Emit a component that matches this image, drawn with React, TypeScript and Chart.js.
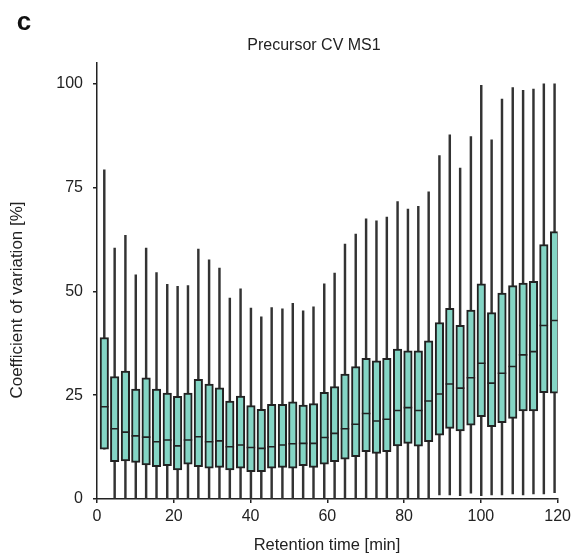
import { useEffect, useRef } from "react";
import { Chart, registerables } from "chart.js";

Chart.register(...registerables);

// Retention time bins [min]
const retentionTime = [
  1.9, 4.6, 7.4, 10.1, 12.8, 15.5, 18.3, 21.0, 23.7, 26.4, 29.2,
  31.9, 34.6, 37.4, 40.1, 42.8, 45.5, 48.3, 51.0, 53.7, 56.4, 59.2,
  61.9, 64.6, 67.4, 70.1, 72.8, 75.5, 78.3, 81.0, 83.7, 86.4, 89.2,
  91.9, 94.6, 97.4, 100.1, 102.8, 105.5, 108.3, 111.0, 113.7, 116.4, 119.2,
];

// Coefficient of variation [%] statistics per bin
const whiskerHigh = [
  79.3, 60.4, 63.5, 54.0, 60.4, 54.5, 51.7, 51.2, 51.4, 60.2, 57.6,
  55.6, 48.4, 50.6, 46.0, 43.9, 46.1, 45.8, 47.1, 45.3, 46.3, 51.8,
  54.4, 61.4, 63.8, 67.5, 67.0, 67.9, 71.6, 69.8, 70.5, 74.0, 82.7,
  87.7, 79.7, 87.3, 99.6, 86.5, 96.3, 99.1, 98.4, 98.7, 100.0, 100.0,
];
const q3 = [
  38.9, 29.5, 30.8, 26.5, 29.2, 26.5, 25.5, 24.7, 25.5, 28.8, 27.7,
  26.8, 23.6, 24.8, 22.5, 21.6, 22.8, 22.8, 23.4, 22.6, 23.0, 25.7,
  27.1, 30.1, 31.9, 33.9, 33.3, 33.9, 36.1, 35.7, 35.7, 38.1, 42.5,
  45.9, 41.8, 45.5, 51.8, 44.9, 49.6, 51.4, 52.0, 52.4, 61.3, 64.4,
];
const median = [
  22.2, 16.9, 16.1, 15.2, 14.9, 13.8, 14.2, 12.8, 14.2, 15.0, 13.8,
  14.0, 12.6, 13.0, 12.4, 12.2, 12.6, 13.0, 13.3, 13.4, 13.4, 14.8,
  15.8, 16.9, 18.0, 20.6, 18.8, 19.2, 21.3, 22.0, 21.3, 23.6, 25.3,
  27.7, 26.7, 29.2, 32.7, 27.9, 30.3, 31.9, 34.7, 35.5, 41.8, 43.0,
];
const q1 = [
  12.0, 9.0, 9.2, 8.8, 8.2, 7.8, 8.0, 7.0, 8.4, 7.8, 7.4,
  7.6, 7.0, 7.4, 6.6, 6.6, 7.4, 7.6, 7.4, 8.0, 7.6, 8.4,
  9.0, 9.6, 10.2, 11.4, 11.0, 11.4, 12.8, 13.4, 12.7, 13.8, 15.4,
  17.0, 16.4, 17.8, 19.8, 17.4, 18.4, 19.4, 21.2, 21.2, 25.6, 25.5,
];
const whiskerLow = [
  12.0, 0, 0, 0, 0, 0, 0, 0, 0, 0, 0,
  0, 0, 0, 0, 0, 0, 0, 0, 0, 0, 0,
  0, 0, 0, 0, 0, 0, 0, 0, 0, 0, 1.0,
  1.0, 0.8, 1.4, 0.8, 1.0, 1.0, 1.2, 1.0, 1.2, 1.2, 1.5,
];

const yTicks = [0, 25, 50, 75, 100];

const FONT = "'Liberation Sans', Arial, Helvetica, sans-serif";
const TEAL = "#84d5c5";
const DARK = "#222222";

export default function App() {
  const ref = useRef<HTMLCanvasElement | null>(null);

  useEffect(() => {
    document.body.style.margin = "0";
    const canvas = ref.current;
    if (!canvas) return;

    const boxData = retentionTime.map((x, i) => ({ x, y: [q1[i], q3[i]] }));
    const whiskerData = retentionTime.map((x, i) => ({
      x,
      y: [whiskerLow[i], whiskerHigh[i]],
    }));
    const medianData = retentionTime.map((x, i) => ({ x, y: median[i] }));

    const chart = new Chart(canvas, {
      type: "bar",
      data: {
        datasets: [
          {
            type: "scatter",
            label: "median",
            data: medianData as any,
            pointStyle: "line",
            pointRadius: 4.25,
            pointHoverRadius: 4.25,
            pointBorderWidth: 1.6,
            pointBorderColor: DARK,
            pointBackgroundColor: DARK,
            order: 1,
          } as any,
          {
            type: "bar",
            label: "IQR",
            data: boxData as any,
            backgroundColor: TEAL,
            borderColor: DARK,
            borderWidth: 2,
            borderSkipped: false,
            barThickness: 8.5,
            grouped: false,
            order: 2,
          } as any,
          {
            type: "bar",
            label: "whisker",
            data: whiskerData as any,
            backgroundColor: "#333333",
            borderWidth: 0,
            barThickness: 1.8,
            grouped: false,
            order: 3,
          } as any,
        ],
      },
      options: {
        responsive: false,
        animation: false,
        devicePixelRatio: 1,
        events: [],
        layout: { padding: { top: 63, right: 13, left: 0, bottom: 0 } },
        plugins: {
          legend: { display: false },
          tooltip: { enabled: false },
          title: { display: false },
        },
        scales: {
          x: {
            type: "linear",
            min: 0,
            max: 120,
            offset: false,
            grid: {
              drawOnChartArea: false,
              drawTicks: true,
              tickLength: 4,
              color: DARK,
              lineWidth: 1.5,
              offset: false,
            },
            border: { display: true, color: DARK, width: 1.5 },
            ticks: {
              stepSize: 20,
              color: "#222",
              padding: 4,
              maxRotation: 0,
              font: { family: FONT, size: 16 },
            },
            afterFit: (scale: any) => {
              scale.height = 57;
            },
          },
          y: {
            type: "linear",
            min: 0,
            max: 105,
            grid: {
              drawOnChartArea: false,
              drawTicks: true,
              tickLength: 4,
              color: DARK,
              lineWidth: 1.5,
            },
            border: { display: true, color: DARK, width: 1.5 },
            afterBuildTicks: (scale: any) => {
              scale.ticks = yTicks.map((v) => ({ value: v }));
            },
            ticks: {
              color: "#222",
              padding: 10,
              font: { family: FONT, size: 16 },
            },
            afterFit: (scale: any) => {
              scale.width = 97;
            },
          },
        },
      } as any,
    });

    return () => chart.destroy();
  }, []);

  const textBase: any = {
    position: "absolute",
    fontFamily: FONT,
    color: "#222",
    whiteSpace: "nowrap",
    lineHeight: 1,
  };

  return (
    <div style={{ position: "relative", width: 575, height: 556, background: "#fff" }}>
      <canvas
        ref={ref}
        width={575}
        height={556}
        style={{ position: "absolute", left: 0, top: 0, width: 575, height: 556 }}
      />
      <div
        style={{
          ...textBase,
          left: 24,
          top: 21,
          fontSize: 26,
          fontWeight: "bold",
          color: "#111",
          transform: "translate(-50%, -50%)",
        }}
      >
        c
      </div>
      <div
        style={{
          ...textBase,
          left: 314,
          top: 45,
          fontSize: 16,
          transform: "translate(-50%, -50%)",
        }}
      >
        Precursor CV MS1
      </div>
      <div
        style={{
          ...textBase,
          left: 327,
          top: 544,
          fontSize: 16.5,
          transform: "translate(-50%, -50%)",
        }}
      >
        Retention time [min]
      </div>
      <div
        style={{
          ...textBase,
          left: 16,
          top: 300,
          fontSize: 17,
          transform: "translate(-50%, -50%) rotate(-90deg)",
        }}
      >
        Coefficient of variation [%]
      </div>
    </div>
  );
}
